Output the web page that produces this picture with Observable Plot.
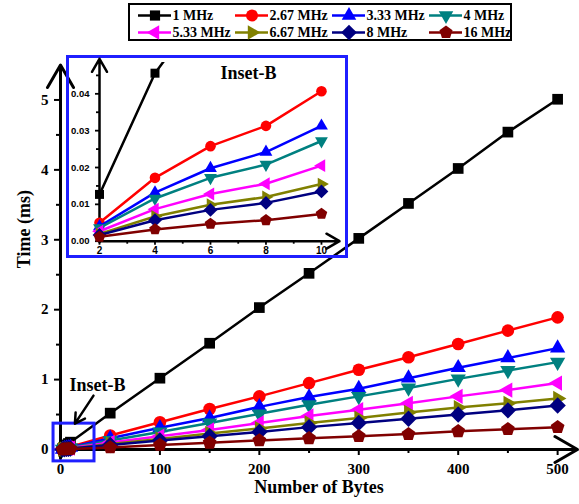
<!DOCTYPE html>
<html><head><meta charset="utf-8">
<script src="https://cdn.jsdelivr.net/npm/d3@7"></script>
<script src="https://cdn.jsdelivr.net/npm/@observablehq/plot@0.6"></script>
<style>
body{margin:0;background:#fff;}
#wrap{position:relative;width:579px;height:504px;overflow:hidden;background:#fff;}
#wrap > *{position:absolute;left:0;top:0;}
#insetFrame{left:66px !important;top:55px !important;width:282px;height:203px;border:3px solid #1f1fff;box-sizing:border-box;}
#legendBox{left:128px !important;top:3px !important;width:384px;height:38px;border:2px solid #000;box-sizing:border-box;}
</style></head><body>
<div id="wrap"><div id="insetFrame"></div><div id="legendBox"></div></div>
<script>
// ---- data ----
const seriesNames = ["1 MHz","2.67 MHz","3.33 MHz","4 MHz","5.33 MHz","6.67 MHz","8 MHz","16 MHz"];
const seriesColors = ["#000000","#ff0000","#0000ff","#008080","#ff00ff","#808000","#000080","#800000"];
const bytes = [2,4,6,8,10,50,100,150,200,250,300,350,400,450,500];
const time1   = [0.0127,0.0456,0.066,0.086,0.105,0.52,1.02,1.52,2.03,2.52,3.02,3.52,4.02,4.54,5.01];
const time267 = [0.0050,0.0172,0.0258,0.0313,0.0407,0.20,0.39,0.58,0.76,0.95,1.14,1.32,1.51,1.70,1.89];
const time333 = [0.0040,0.0132,0.0198,0.0242,0.0313,0.16,0.31,0.45,0.61,0.75,0.87,1.02,1.17,1.31,1.45];
const time4   = [0.0036,0.0116,0.0172,0.0208,0.0272,0.13,0.25,0.38,0.51,0.64,0.76,0.88,1.01,1.13,1.25];
const time533 = [0.0027,0.0087,0.0128,0.0156,0.0205,0.10,0.19,0.28,0.38,0.48,0.57,0.66,0.76,0.85,0.95];
const time667 = [0.0020,0.0067,0.0099,0.0120,0.0155,0.08,0.15,0.23,0.30,0.38,0.45,0.53,0.60,0.66,0.73];
const time8   = [0.0017,0.0057,0.0085,0.0104,0.0135,0.065,0.13,0.19,0.25,0.32,0.38,0.44,0.50,0.56,0.63];
const time16  = [0.0012,0.0032,0.0047,0.0057,0.0074,0.03,0.065,0.095,0.13,0.16,0.19,0.22,0.26,0.29,0.32];
const seriesTimes = [time1,time267,time333,time4,time533,time667,time8,time16];

const xMajor = [0,100,200,300,400,500];
const xMinor = [50,150,250,350,450];
const yMajor = [0,1,2,3,4,5];
const yMinor = [0.5,1.5,2.5,3.5,4.5];
const insetXMajor = [2,4,6,8,10];
const insetXMinor = [3,5,7,9];
const insetYMajor = [0,0.01,0.02,0.03,0.04];
const insetYMinor = [0.005,0.015,0.025,0.035,0.045];

const xTitle = "Number of Bytes";
const yTitle = "Time (ms)";
const insetTitle = "Inset-B";

// ---- symbols ----
function polySym(angles, k) {
  return {draw(ctx, size) {
    const r = Math.sqrt(size / Math.PI) * k;
    angles.forEach((a, i) => {
      const t = a * Math.PI / 180, x = r * Math.cos(t), y = r * Math.sin(t);
      if (i) ctx.lineTo(x, y); else ctx.moveTo(x, y);
    });
    ctx.closePath();
  }};
}
const seriesSymbols = [
  polySym([45,135,225,315], 1.2),
  "circle",
  polySym([-90,30,150], 1.4),
  polySym([90,210,330], 1.4),
  polySym([180,300,60], 1.4),
  polySym([0,120,240], 1.4),
  polySym([0,90,180,270], 1.3),
  polySym([-90,-18,54,126,198], 1.15)
];

const serif = "'Liberation Serif','Times New Roman',serif";
const sans = "'Liberation Sans',Arial,sans-serif";
const blue = "#1f1fff";

const rows = seriesNames.flatMap((name, s) => bytes.map((b, i) => ({name, s, x: b, y: seriesTimes[s][i]})));

// ---- main chart ----
const xMax = 520, yMax = 5.5;
const seriesMarks = seriesNames.flatMap((name, s) => {
  const d = rows.filter(r => r.s === s);
  return [
    Plot.line(d, {x: "x", y: "y", stroke: seriesColors[s], strokeWidth: 2.5}),
    Plot.dot(d, {x: "x", y: "y", symbol: seriesSymbols[s], fill: seriesColors[s], r: 6.3})
  ];
});
const axisOpts = {fontFamily: serif, fontWeight: "bold", fontSize: 15, label: null, strokeWidth: 2};
const main = Plot.plot({
  width: 579, height: 504,
  marginLeft: 60, marginRight: 2, marginTop: 64.5, marginBottom: 55,
  x: {domain: [0, xMax]}, y: {domain: [0, yMax]},
  style: {fontFamily: serif, fontWeight: "bold", fontSize: "15px", color: "#000", background: "transparent", overflow: "visible"},
  marks: [
    Plot.axisX({...axisOpts, ticks: xMajor, tickSize: 6, tickPadding: 8, tickFormat: d => String(d)}),
    Plot.axisX({...axisOpts, ticks: xMinor, tickSize: 4, tickFormat: () => ""}),
    Plot.axisY({...axisOpts, ticks: yMajor, tickSize: 6, tickPadding: 6, tickFormat: d => String(d)}),
    Plot.axisY({...axisOpts, ticks: yMinor, tickSize: 4, tickFormat: () => ""}),
    Plot.arrow([{x1: -3, y1: 0, x2: xMax, y2: 0}], {x1: "x1", y1: "y1", x2: "x2", y2: "y2", stroke: "#000", strokeWidth: 3, headLength: 13, headAngle: 60}),
    Plot.arrow([{x1: 0, y1: -0.13, x2: 0, y2: yMax}], {x1: "x1", y1: "y1", x2: "x2", y2: "y2", stroke: "#000", strokeWidth: 3, headLength: 13, headAngle: 60}),
    ...seriesMarks,
    Plot.rect([{x1: -7, x2: 34.2, y1: -0.17, y2: 0.37}], {x1: "x1", x2: "x2", y1: "y1", y2: "y2", fill: "none", stroke: blue, strokeWidth: 3}),
    Plot.arrow([{x1: 33.2, y1: 0.77, x2: 14.5, y2: 0.37}], {x1: "x1", y1: "y1", x2: "x2", y2: "y2", stroke: "#000", strokeWidth: 2.5, headLength: 10, headAngle: 60}),
    Plot.text([insetTitle], {x: 37.2, y: 0.92, text: d => d, fontSize: 18, fontWeight: "bold", fontFamily: serif}),
    Plot.text([xTitle], {frameAnchor: "bottom", dy: 43, text: d => d, fontSize: 18, fontWeight: "bold", fontFamily: serif}),
    Plot.text([yTitle], {frameAnchor: "left", dx: -36, dy: 11, rotate: -90, text: d => d, fontSize: 18, fontWeight: "bold", fontFamily: serif})
  ]
});

// ---- inset ----
const ixMax = 10.65, iyMax = 0.0485, iyArrow = 0.0495;
const insetRows = rows.filter(r => r.x <= 10);
const insetSeries = seriesNames.flatMap((name, s) => {
  const d = insetRows.filter(r => r.s === s);
  return [
    Plot.line(d, {x: "x", y: "y", stroke: seriesColors[s], strokeWidth: 2.5, clip: true}),
    Plot.dot(d.filter(r => r.y <= iyMax), {x: "x", y: "y", symbol: seriesSymbols[s], fill: seriesColors[s], r: 5.3})
  ];
});
const iAxis = {fontFamily: sans, fontWeight: "bold", fontSize: 9.5, label: null, strokeWidth: 1.8};
const inset = Plot.plot({
  width: 579, height: 504,
  marginLeft: 99, marginRight: 240, marginTop: 62, marginBottom: 263.3,
  x: {domain: [2, ixMax]}, y: {domain: [0, iyMax]},
  style: {fontFamily: sans, fontWeight: "bold", fontSize: "10px", color: "#000", background: "transparent", overflow: "visible", pointerEvents: "none"},
  marks: [
    Plot.axisX({...iAxis, fontSize: 10, ticks: insetXMajor, tickSize: 4, tickPadding: 2, tickFormat: d => String(d)}),
    Plot.axisX({...iAxis, ticks: insetXMinor, tickSize: 3, tickFormat: () => ""}),
    Plot.axisY({...iAxis, ticks: insetYMajor, tickSize: 4, tickPadding: 6, tickFormat: d3.format(".2f")}),
    Plot.axisY({...iAxis, ticks: insetYMinor, tickSize: 3, tickFormat: () => ""}),
    Plot.arrow([{x1: 2, y1: 0, x2: ixMax, y2: 0}], {x1: "x1", y1: "y1", x2: "x2", y2: "y2", stroke: "#000", strokeWidth: 2.5, headLength: 9, headAngle: 60}),
    Plot.arrow([{x1: 2, y1: -0.0003, x2: 2, y2: iyArrow}], {x1: "x1", y1: "y1", x2: "x2", y2: "y2", stroke: "#000", strokeWidth: 2.5, headLength: 9, headAngle: 60}),
    ...insetSeries,
    Plot.text([insetTitle], {x: 7.37, y: 0.0455, text: d => d, fontSize: 18, fontWeight: "bold", fontFamily: serif})
  ]
});

// ---- legend ----
const legendData = seriesNames.map((name, i) => ({name, i, col: i % 4, row: Math.floor(i / 4)}));
const legX0 = 138, legColW = 97, legLineW = 33, legY0 = 15, legRowH = 17;
const lx = d => legX0 + d.col * legColW;
const ly = d => legY0 + d.row * legRowH;
const legend = Plot.plot({
  width: 579, height: 45,
  x: {type: "identity", axis: null}, y: {type: "identity", axis: null},
  style: {background: "transparent", overflow: "visible"},
  marks: [
    ...legendData.map(d => Plot.ruleY([d], {y: ly, x1: lx, x2: e => lx(e) + legLineW, stroke: seriesColors[d.i], strokeWidth: 2.5})),
    ...legendData.map(d => Plot.dot([d], {x: e => lx(e) + legLineW / 2, y: ly, symbol: seriesSymbols[d.i], fill: seriesColors[d.i], r: 6})),
    Plot.text(legendData, {x: e => lx(e) + legLineW + 1, y: ly, text: "name", textAnchor: "start", fontSize: 14, fontWeight: "bold", fontFamily: serif, fill: "#000"})
  ]
});

const wrap = document.getElementById("wrap");
wrap.prepend(main);
wrap.appendChild(inset);
wrap.appendChild(legend);
</script>
</body></html>
